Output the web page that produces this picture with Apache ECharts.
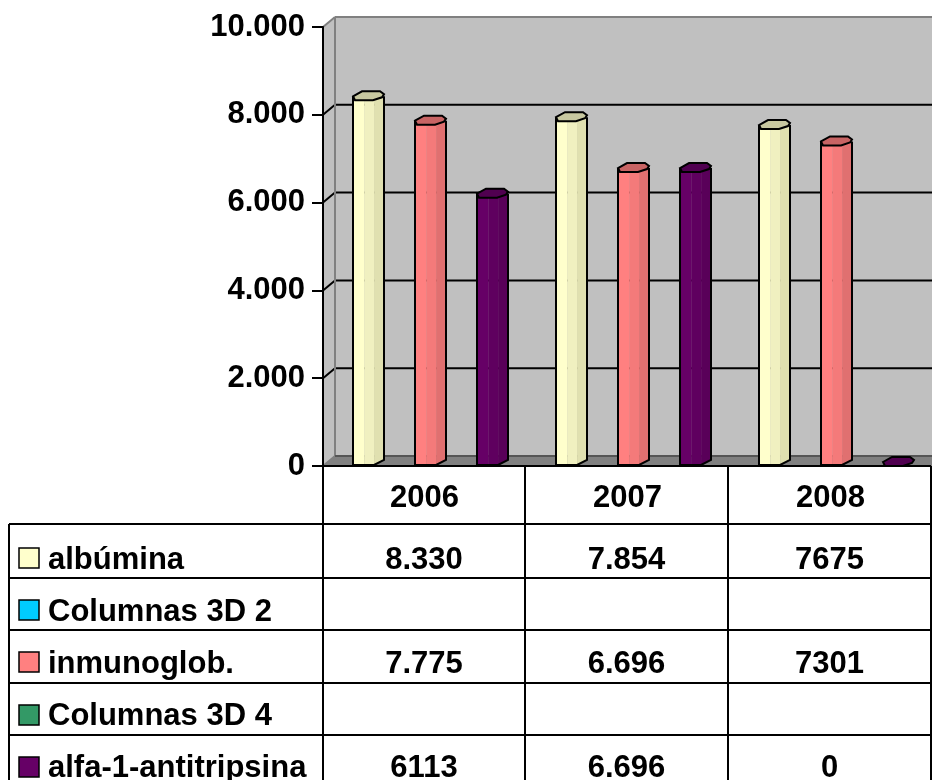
<!DOCTYPE html>
<html><head><meta charset="utf-8">
<style>html,body{margin:0;padding:0;background:#fff}#c{width:932px;height:780px}</style>
<script src="https://cdn.jsdelivr.net/npm/echarts@6/dist/echarts.min.js"></script>
</head><body><div id="c"></div>
<script>
const categories = ['2006','2007','2008'];
const seriesNames = ['albúmina','Columnas 3D 2','inmunoglob.','Columnas 3D 4','alfa-1-antitripsina'];
const albumina = [8330,7854,7675];
const columnas2 = [null,null,null];
const inmunoglob = [7775,6696,7301];
const columnas4 = [null,null,null];
const alfa1 = [6113,6696,0];
const albuminaCells = ['8.330','7.854','7675'];
const columnas2Cells = ['','',''];
const inmunoglobCells = ['7.775','6.696','7301'];
const columnas4Cells = ['','',''];
const alfa1Cells = ['6113','6.696','0'];
const yTickLabels = ['0','2.000','4.000','6.000','8.000','10.000'];
const gridValues = [0,2000,4000,6000,8000,10000];

const seriesValues = [albumina,columnas2,inmunoglob,columnas4,alfa1];
const cellRows = [albuminaCells,columnas2Cells,inmunoglobCells,columnas4Cells,alfa1Cells];
const colors = ['#ffffcc','#00ccff','#ff8080','#339966','#660066'];
const shades = [
  ['#ffffcc','#f0f0c0','#e0e0b0','#c8c8a0'],
  ['#00ccff','#00bcec','#00a8d4','#00a0c8'],
  ['#ff8080','#f47a7a','#e07070','#c86464'],
  ['#339966','#2f8d5e','#2b8055','#287850'],
  ['#660066','#5f005f','#590059','#500050']
];
const FONT = '"Liberation Sans", Arial, sans-serif';
const FS = 31;
const L = 323, T = 27, R = 932, B = 466;
const DX = 12, DY = -10;
const slot = 31, barW = 31, barShift = 6;

function wallItem(params, api){
  const cs = params.coordSys;
  const x0 = cs.x, x1 = cs.x + cs.width;
  const yb = api.coord([0,0])[1], yt = api.coord([0,10000])[1];
  const ch = [];
  const poly = (pts, fill, stroke, lw) => ({type:'polygon', shape:{points:pts}, style:{fill, stroke:stroke||null, lineWidth:lw||0}});
  const line = (a,b,c,w) => ({type:'line', shape:{x1:a[0],y1:a[1],x2:b[0],y2:b[1]}, style:{stroke:c,lineWidth:w}});
  ch.push(poly([[x0+DX,yt+DY],[x1+2,yt+DY],[x1+2,yb+DY],[x0+DX,yb+DY]],'#c0c0c0'));
  ch.push(poly([[x0,yt],[x0+DX,yt+DY],[x0+DX,yb+DY],[x0,yb]],'#c0c0c0'));
  ch.push(poly([[x0,yb],[x0+DX,yb+DY],[x1+2,yb+DY],[x1+2,yb]],'#808080'));
  gridValues.forEach(v=>{
    const y = api.coord([0,v])[1];
    const edge = v===0||v===10000;
    if(!edge){
      ch.push(line([x0,y],[x0+DX,y+DY],'#000',2));
      ch.push(line([x0+DX,y+DY],[x1+2,y+DY],'#000',2));
    }
  });
  ch.push(line([x0+DX,yt+DY],[x1+2,yt+DY],'#808080',2));
  ch.push(line([x0,yt],[x0+DX,yt+DY],'#808080',2));
  ch.push(line([x0+DX,yt+DY],[x0+DX,yb+DY],'#808080',2));
  ch.push(line([x0,yb],[x0+DX,yb+DY],'#808080',2));
  ch.push(line([x0+DX,yb+DY],[x1+2,yb+DY],'#555',2));
  return {type:'group', children:ch};
}

function barItem(si){
  return function(params, api){
    const v = api.value(1);
    if(v===null||v===undefined||isNaN(v)) return null;
    const c = api.coord([api.value(0), v]);
    const y0 = api.coord([api.value(0), 0])[1] - 1;
    const l = c[0] + (si-2)*slot + barShift - barW/2;
    const w = barW, t = c[1] - 4;
    const s = shades[si], ch = [];
    if(v>0){
      const b1 = w*0.36, b2 = w*0.68;
      const band=(a,b,f,yb1,yb2)=>({type:'polygon',shape:{points:[[l+a,t],[l+b,t],[l+b,yb2],[l+a,yb1]]},style:{fill:f}});
      ch.push(band(0,b1,s[0],y0,y0));
      ch.push(band(b1,b2,s[1],y0,y0));
      ch.push(band(b2,w,s[2],y0,y0-5));
      ch.push({type:'polyline',shape:{points:[[l,t],[l,y0],[l+b2,y0],[l+w,y0-5],[l+w,t]]},style:{fill:null,stroke:'#000',lineWidth:2}});
    }
    ch.push({type:'polygon',shape:{points:[[l,t],[l+9,t-5],[l+27,t-5],[l+w,t-2],[l+w-2,t+1],[l+20,t+4],[l+2,t+4]]},
      style:{fill:s[3],stroke:'#000',lineWidth:2}});
    return {type:'group',children:ch};
  };
}

const rowLines = [524,578,630,683,735];
const rowText = [560,612,664,716,768];
const swatchY = [548,600,652,705,757];
const colX = [323,525,728,931];
const gfx = [];
const gl=(x1,y1,x2,y2)=>gfx.push({type:'line',shape:{x1,y1,x2,y2},style:{stroke:'#000',lineWidth:2},z:5});
gl(L,B,931,B);
rowLines.forEach(y=>gl(9,y,931,y));
gl(9,524,9,780);
colX.forEach(x=>gl(x,B,x,780));
seriesNames.forEach((n,i)=>{
  gfx.push({type:'rect',shape:{x:19,y:swatchY[i],width:20,height:20},style:{fill:colors[i],stroke:'#000',lineWidth:1.5},z:6});
  gfx.push({type:'text',x:48,y:rowText[i],style:{text:n,font:'bold '+FS+'px '+FONT,fill:'#000',align:'left',verticalAlign:'middle'},z:6});
  cellRows[i].forEach((t,j)=>{
    if(!t) return;
    gfx.push({type:'text',x:(colX[j]+colX[j+1])/2,y:rowText[i],style:{text:t,font:'bold '+FS+'px '+FONT,fill:'#000',align:'center',verticalAlign:'middle'},z:6});
  });
});

const chart = echarts.init(document.getElementById('c'),null,{renderer:'canvas'});
chart.setOption({
  animation:false,
  backgroundColor:'#fff',
  graphic:gfx,
  grid:{left:L,top:T,width:R-L,height:B-T,containLabel:false},
  xAxis:{type:'category',data:categories,
    axisLine:{show:false},axisTick:{show:false},
    axisLabel:{margin:17,color:'#000',fontFamily:FONT,fontWeight:'bold',fontSize:FS}},
  yAxis:{type:'value',min:0,max:10000,interval:2000,z:4,
    axisLine:{show:true,lineStyle:{color:'#000',width:2}},
    axisTick:{show:true,length:11,lineStyle:{color:'#000',width:2}},
    splitLine:{show:false},
    axisLabel:{margin:18,color:'#000',fontFamily:FONT,fontWeight:'bold',fontSize:FS,padding:[6,0,0,0],
      formatter:v=>yTickLabels[gridValues.indexOf(v)]}},
  series:[
    {type:'custom',name:'walls',silent:true,clip:false,z:1,renderItem:wallItem,data:[[0,0]],encode:{x:0,y:1}}
  ].concat(seriesNames.map((n,si)=>({
    type:'custom',name:n,clip:false,z:3,renderItem:barItem(si),
    encode:{x:0,y:1},
    data:categories.map((c,j)=>[j,seriesValues[si][j]])
  })))
});
</script></body></html>
